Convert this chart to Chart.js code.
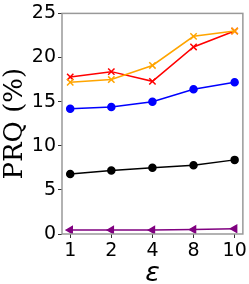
<!DOCTYPE html>
<html>
<head>
<meta charset="utf-8">
<script src="https://cdn.jsdelivr.net/npm/chart.js@4"></script>
<style>
	html, body { margin: 0; padding: 0; background: #fff; }
	#wrap { width: 249px; height: 284px; }
</style>
</head>
<body>
<div id="wrap"><canvas id="myChart" width="249" height="284"></canvas></div>
<script>
const epsilons = ["1", "2", "4", "8", "10"];
const orangeVals = [17.2, 17.5, 19.1, 22.4, 23.0];
const redVals = [17.8, 18.4, 17.3, 21.2, 23.0];
const blueVals = [14.2, 14.4, 15.0, 16.4, 17.2];
const blackVals = [6.8, 7.2, 7.5, 7.8, 8.4];
const purpleVals = [0.45, 0.45, 0.45, 0.5, 0.6];
const yTicks = [0, 5, 10, 15, 20, 25];

function toPoints(vals) {
	return vals.map((v, i) => ({ x: i, y: v }));
}

// matplotlib-style box around the plot
const frame = {
	id: "frame",
	afterDraw(chart) {
		const a = chart.chartArea;
		const c = chart.ctx;
		c.save();
		c.strokeStyle = "#999999";
		c.lineWidth = 1.5;
		c.strokeRect(a.left, a.top, a.right - a.left, a.bottom - a.top);
		c.restore();
	},
};

const ctx = document.getElementById("myChart");
new Chart(ctx, {
	type: "line",
	data: {
		datasets: [
			{
				data: toPoints(purpleVals),
				borderColor: "#800080",
				backgroundColor: "#800080",
				pointStyle: "triangle",
				rotation: -90,
				pointRadius: 4,
				borderWidth: 1.5,
			},
			{
				data: toPoints(blackVals),
				borderColor: "#000000",
				backgroundColor: "#000000",
				pointStyle: "circle",
				pointRadius: 3.5,
				borderWidth: 1.5,
			},
			{
				data: toPoints(blueVals),
				borderColor: "#0000ff",
				backgroundColor: "#0000ff",
				pointStyle: "circle",
				pointRadius: 3.5,
				borderWidth: 1.5,
			},
			{
				data: toPoints(orangeVals),
				borderColor: "#ffa500",
				backgroundColor: "#ffa500",
				pointStyle: "cross",
				rotation: 45,
				pointRadius: 4.5,
				borderWidth: 1.5,
			},
			{
				data: toPoints(redVals),
				borderColor: "#ff0000",
				backgroundColor: "#ff0000",
				pointStyle: "cross",
				rotation: 45,
				pointRadius: 4.5,
				borderWidth: 1.5,
			},
		],
	},
	options: {
		responsive: false,
		animation: false,
		layout: { padding: { top: 8, right: 4, left: 0, bottom: 0 } },
		plugins: { legend: { display: false }, tooltip: { enabled: false } },
		elements: { line: { tension: 0 } },
		scales: {
			x: {
				type: "linear",
				min: -0.2,
				max: 4.2,
				afterBuildTicks: (scale) => {
					scale.ticks = epsilons.map((e, i) => ({ value: i }));
				},
				afterFit: (scale) => {
					scale.height = 50;
				},
				ticks: {
					callback: (v) => epsilons[v],
					color: "#000",
					font: { family: "DejaVu Sans", size: 19 },
					padding: 2,
					maxRotation: 0,
				},
				grid: { drawOnChartArea: false, tickLength: 4, color: "#333" },
				border: { display: false },
				title: {
					display: true,
					text: "ε",
					color: "#000",
					font: { family: "DejaVu Sans", size: 27, style: "italic" },
					padding: { top: 0, bottom: -6 },
				},
			},
			y: {
				min: 0,
				max: 25,
				afterBuildTicks: (scale) => {
					scale.ticks = yTicks.map((t) => ({ value: t }));
				},
				afterFit: (scale) => {
					scale.width = 62;
				},
				ticks: {
					color: "#000",
					font: { family: "DejaVu Sans", size: 19 },
					padding: 2,
				},
				grid: { drawOnChartArea: false, tickLength: 4, color: "#333" },
				border: { display: false },
				title: {
					display: true,
					text: "PRQ (%)",
					color: "#000",
					font: { family: "DejaVu Serif", size: 26 },
					padding: { top: 0, bottom: 0 },
				},
			},
		},
	},
	plugins: [frame],
});
</script>
</body>
</html>
